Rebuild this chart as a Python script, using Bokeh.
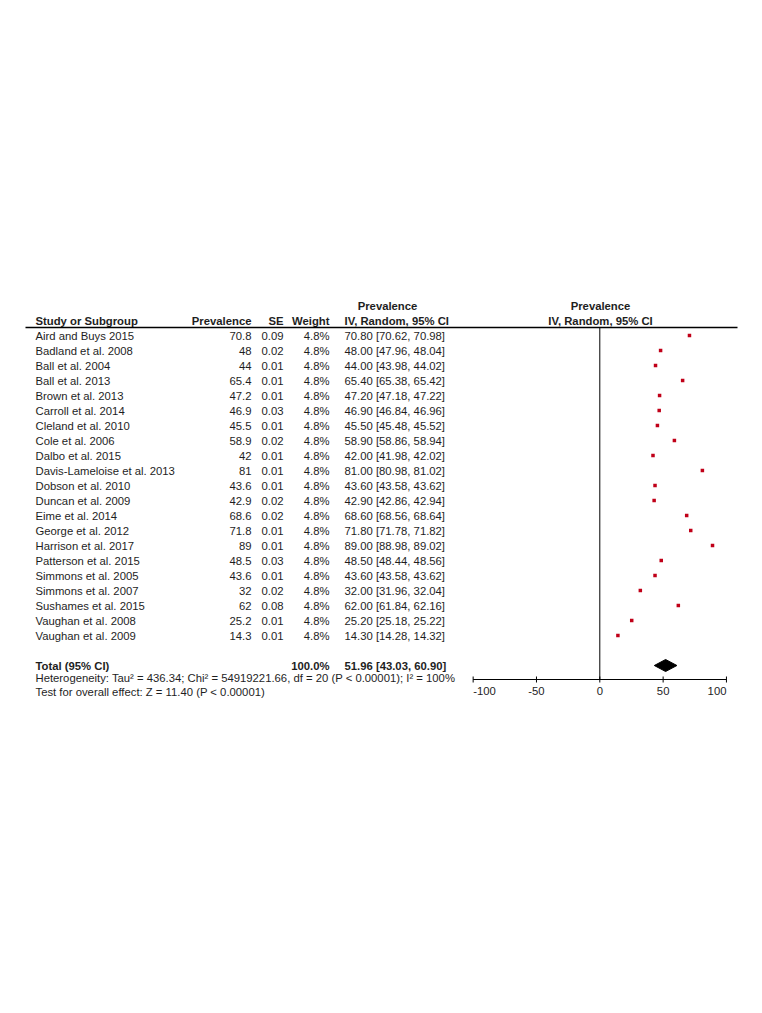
from bokeh.plotting import figure
from bokeh.models import Range1d, ColumnDataSource
from bokeh.core.properties import value
from bokeh.embed import file_html
from bokeh.resources import INLINE

# ---------------- data ----------------
studies = ["Aird and Buys 2015", "Badland et al. 2008", "Ball et al. 2004", "Ball et al. 2013",
           "Brown et al. 2013", "Carroll et al. 2014", "Cleland et al. 2010", "Cole et al. 2006",
           "Dalbo et al. 2015", "Davis-Lameloise et al. 2013", "Dobson et al. 2010",
           "Duncan et al. 2009", "Eime et al. 2014", "George et al. 2012", "Harrison et al. 2017",
           "Patterson et al. 2015", "Simmons et al. 2005", "Simmons et al. 2007",
           "Sushames et al. 2015", "Vaughan et al. 2008", "Vaughan et al. 2009"]
prevalence = [70.8, 48, 44, 65.4, 47.2, 46.9, 45.5, 58.9, 42, 81, 43.6, 42.9, 68.6, 71.8, 89,
              48.5, 43.6, 32, 62, 25.2, 14.3]
se = [0.09, 0.02, 0.01, 0.01, 0.01, 0.03, 0.01, 0.02, 0.01, 0.01, 0.01, 0.02, 0.02, 0.01, 0.01,
      0.03, 0.01, 0.02, 0.08, 0.01, 0.01]
weight = [4.8] * 21
ci_lower = [70.62, 47.96, 43.98, 65.38, 47.18, 46.84, 45.48, 58.86, 41.98, 80.98, 43.58, 42.86,
            68.56, 71.78, 88.98, 48.44, 43.58, 31.96, 61.84, 25.18, 14.28]
ci_upper = [70.98, 48.04, 44.02, 65.42, 47.22, 46.96, 45.52, 58.94, 42.02, 81.02, 43.62, 42.94,
            68.64, 71.82, 89.02, 48.56, 43.62, 32.04, 62.16, 25.22, 14.32]
total_est = 51.96
total_lower = 43.03
total_upper = 60.90
total_weight = 100.0
axis_ticks = [-100, -50, 0, 50, 100]
axis_labels = ["-100", "-50", "0", "50", "100"]
heterogeneity = "Heterogeneity: Tau\u00b2 = 436.34; Chi\u00b2 = 54919221.66, df = 20 (P < 0.00001); I\u00b2 = 100%"
overall = "Test for overall effect: Z = 11.40 (P < 0.00001)"

# ---------------- figure ----------------
W, H = 746, 997
OX, OY = 0, 0  # page position of the canvas origin
FONT = value("Liberation Sans")
FS = "11.3px"
TXT = "#1e1e1e"

p = figure(width=W, height=H, output_backend="svg", toolbar_location=None,
           x_range=Range1d(OX, OX + W), y_range=Range1d(OY + H, OY),
           x_axis_location=None, y_axis_location=None, min_border=0,
           outline_line_color=None, background_fill_color="white")
p.grid.visible = False

# forest scale: 0 at x=599.3, 1.2665 px per unit
x0, k = 599.3, 1.2665
p.extra_x_ranges = {"forest": Range1d((OX - x0) / k, (OX + W - x0) / k)}
# row scale: row 0 at y=335, 15 px per row
y0, r = 335.0, 15.0
p.extra_y_ranges = {"rows": Range1d((OY + H - y0) / r, (OY - y0) / r)}

n = len(studies)
rows = list(range(n))
src = ColumnDataSource(dict(
    row=rows, study=studies, prev=prevalence,
    prev_s=[f"{v:g}" for v in prevalence],
    se_s=[f"{s:.2f}" for s in se],
    w_s=[f"{w:.1f}%" for w in weight],
    ci_s=[f"{v:.2f} [{lo:.2f}, {hi:.2f}]" for v, lo, hi in zip(prevalence, ci_lower, ci_upper)],
))

def col(field, x, align):
    p.text(x=x, y="row", text=field, source=src, y_range_name="rows",
           text_font=FONT, text_font_size=FS, text_color=TXT,
           text_align=align, text_baseline="middle")

col("study", 35, "left")
col("prev_s", 251, "right")
col("se_s", 283, "right")
col("w_s", 329, "right")
col("ci_s", 344, "left")

# headers
def hdr(x, y, t, align):
    p.text(x=[x], y=[y], text=[t], text_font=FONT, text_font_size=FS, text_color=TXT,
           text_font_style="bold", text_align=align, text_baseline="middle")

hdr(35, 320, "Study or Subgroup", "left")
hdr(251, 320, "Prevalence", "right")
hdr(283, 320, "SE", "right")
hdr(329, 320, "Weight", "right")
hdr(387, 305, "Prevalence", "center")
hdr(344, 320, "IV, Random, 95% CI", "left")
hdr(600, 305, "Prevalence", "center")
hdr(600, 320, "IV, Random, 95% CI", "center")

p.segment(x0=[25], y0=[327], x1=[737], y1=[327], line_color="black", line_width=1.3)

# total row
total_row = n + 1
p.text(x=[35], y=[total_row], text=["Total (95% CI)"], y_range_name="rows",
       text_font=FONT, text_font_size=FS, text_color=TXT, text_font_style="bold",
       text_align="left", text_baseline="middle")
p.text(x=[329], y=[total_row], text=[f"{total_weight:.1f}%"], y_range_name="rows",
       text_font=FONT, text_font_size=FS, text_color=TXT, text_font_style="bold",
       text_align="right", text_baseline="middle")
p.text(x=[344], y=[total_row], text=[f"{total_est:.2f} [{total_lower:.2f}, {total_upper:.2f}]"],
       y_range_name="rows", text_font=FONT, text_font_size=FS, text_color=TXT,
       text_font_style="bold", text_align="left", text_baseline="middle")

p.text(x=[35, 35], y=[677, 691], text=[heterogeneity, overall], text_font=FONT,
       text_font_size=FS, text_color=TXT, text_align="left", text_baseline="middle")

# zero line
p.segment(x0=[0], y0=[327], x1=[0], y1=[679], x_range_name="forest",
          line_color="black", line_width=1)

# study markers
p.scatter(x="prev", y="row", source=src, marker="square", size=3.5,
          fill_color="#c00018", line_color=None,
          x_range_name="forest", y_range_name="rows")

# pooled diamond
p.patch(x=[total_lower, total_est, total_upper, total_est],
        y=[total_row, total_row - 0.4, total_row, total_row + 0.4],
        x_range_name="forest", y_range_name="rows",
        fill_color="black", line_color="black")

# axis
p.segment(x0=[axis_ticks[0]], y0=[679], x1=[axis_ticks[-1]], y1=[679],
          x_range_name="forest", line_color="black", line_width=1)
p.segment(x0=axis_ticks, y0=[676] * len(axis_ticks), x1=axis_ticks, y1=[682] * len(axis_ticks),
          x_range_name="forest", line_color="black", line_width=1)
p.text(x=axis_ticks, y=[690] * len(axis_ticks), text=axis_labels, x_range_name="forest",
       text_font=FONT, text_font_size=FS, text_color=TXT,
       text_align=["left", "center", "center", "center", "right"], text_baseline="middle")

open("out.html", "w").write(file_html(p, INLINE))
